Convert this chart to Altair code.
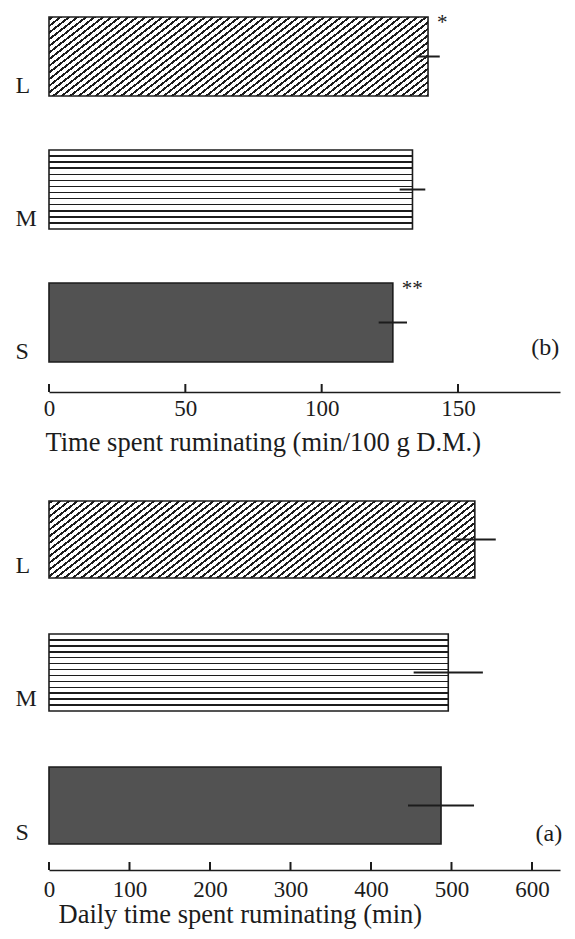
import math
import altair as alt
import pandas as pd

# ---------------- data ----------------
cats = ["L", "M", "S"]

# panel (b): time spent ruminating (min/100 g D.M.)
b_mean = [139.0, 133.3, 126.1]
b_err = [4.3, 4.7, 5.2]
b_sig = ["*", "", "**"]
b_ticks = [0, 50, 100, 150]

# panel (a): daily time spent ruminating (min)
a_mean = [529.0, 496.0, 487.0]
a_err = [26.0, 43.0, 41.0]
a_ticks = [0, 100, 200, 300, 400, 500, 600]

# ---------------- styling / layout ----------------
FONT = "Liberation Serif"
INK = "#1c1c1c"
PW = 511          # plot width (both panels)
B_H = 384         # plot height panel (b)
A_H = 391         # plot height panel (a)
B_MAX = 187.4
A_MAX = 634.8
B_PX = PW / B_MAX
A_PX = PW / A_MAX


def diag_fill(w, h, theta_deg=38.0, spacing=8.5, thick=1.9):
    th = math.radians(theta_deg)
    s, c = math.sin(th), math.cos(th)
    smax = w * s + h * c
    k = smax / (w * w * s * s + h * h * c * c)
    x2, y2 = k * w * s, k * h * c
    period = spacing * s
    stops = [{"offset": 0, "color": "white"}]
    i = 0
    while True:
        o = (i * period + 1.0) / smax
        if o >= 1:
            break
        o2 = min((i * period + 1.0 + thick) / smax, 1)
        stops += [{"offset": o, "color": "white"}, {"offset": o, "color": INK},
                  {"offset": o2, "color": INK}, {"offset": o2, "color": "white"}]
        i += 1
    stops.append({"offset": 1, "color": "white"})
    return {"gradient": "linear", "x1": 0, "y1": 0, "x2": x2, "y2": y2, "stops": stops}


def horiz_fill(h, n=13, thick=1.5):
    stops = [{"offset": 0, "color": "white"}]
    gap = h / n
    for i in range(1, n):
        o = (i * gap - thick / 2) / h
        o2 = (i * gap + thick / 2) / h
        stops += [{"offset": o, "color": "white"}, {"offset": o, "color": INK},
                  {"offset": o2, "color": INK}, {"offset": o2, "color": "white"}]
    stops.append({"offset": 1, "color": "white"})
    return {"gradient": "linear", "x1": 0, "y1": 0, "x2": 0, "y2": 1, "stops": stops}


def panel(means, errs, sigs, ticks, dmax, px, H, pad, title, title_x, title_y,
          label_pad, label_off, tag, tag_x, tag_dy, bar_h):
    df = pd.DataFrame({"cat": cats, "v": means, "lo": [m - e for m, e in zip(means, errs)],
                       "hi": [m + e for m, e in zip(means, errs)], "sig": sigs})
    xs = alt.Scale(domain=[0, dmax], nice=False, zero=False)
    ys = alt.Scale(domain=cats, paddingInner=pad[0], paddingOuter=pad[1], align=pad[2])
    yaxis = alt.Axis(title=None, domain=False, ticks=False, tickSize=0, labelPadding=34,
                     labelAlign="left", labelBaseline="middle", labelOffset=label_off,
                     labelFontSize=24, labelFont=FONT, labelColor=INK, grid=False)
    xaxis = alt.Axis(values=ticks, title=title, ticks=False, tickSize=0, grid=False,
                     labelPadding=label_pad, labelFontSize=23, labelFont=FONT,
                     labelColor=INK, labelFlush=False, labelOverlap=False,
                     domainColor=INK, domainWidth=1.6,
                     titleFont=FONT, titleFontSize=26.5, titleFontWeight="normal",
                     titleColor=INK, titleAnchor="start", titleAlign="left",
                     titleX=title_x, titleY=title_y, titleBaseline="alphabetic")

    def X(f):
        return alt.X(f, scale=xs, axis=xaxis, title=title)

    def Y():
        return alt.Y("cat:N", scale=ys, axis=yaxis, title=None)

    fills = [diag_fill(means[0] * px, bar_h), horiz_fill(bar_h), "#525252"]
    layers = []
    for i, c in enumerate(cats):
        sub = df[df.cat == c]
        layers.append(alt.Chart(sub).mark_bar(fill=fills[i], stroke=INK, strokeWidth=1.6)
                      .encode(x=X("v:Q"), x2=alt.datum(0), y=Y()))
    err = alt.Chart(df).mark_rule(color=INK, strokeWidth=2).encode(
        x=X("lo:Q"), x2="hi:Q", y=Y())
    sig = alt.Chart(df[df.sig != ""]).mark_text(
        font=FONT, fontSize=21, align="left", baseline="top", dx=9, dy=-45, color=INK
    ).encode(x=X("v:Q"), y=Y(), text="sig:N")
    tag_mark = alt.Chart(pd.DataFrame({"t": [tag]})).mark_text(
        font=FONT, fontSize=24, align="center", baseline="middle", dy=tag_dy, color=INK
    ).encode(x=alt.datum(tag_x), y=alt.datum("S"), text="t:N")
    tk = alt.Chart(pd.DataFrame({"t": ticks})).mark_rule(color=INK, strokeWidth=2).encode(
        x=X("t:Q"), y=alt.value(H), y2=alt.value(H - 8))
    return (alt.layer(*layers, err, sig, tag_mark, tk)
            .properties(width=PW, height=H,
                        view=alt.ViewBackground(stroke="transparent", strokeWidth=0)))


pb = panel(b_mean, b_err, b_sig, b_ticks, B_MAX, B_PX, B_H, (0.406, 0.1466, 0.231),
           "Time spent ruminating (min/100 g D.M.)", -4, 58.6, 5, 29, "(b)", 182, 25, 79)
pa = panel(a_mean, a_err, ["", "", ""], a_ticks, A_MAX, A_PX, A_H, (0.421, 0.18, 0.458),
           "Daily time spent ruminating (min)", 9, 52.6, 8, 27, "(a)", 621, 28, 77)

chart = (alt.vconcat(pb, pa, spacing=22)
         .resolve_scale(x="independent", y="independent")
         .properties(padding={"left": 7, "top": 0, "right": 0, "bottom": 0})
         .configure_view(strokeWidth=0, stroke="transparent")
         .configure(font=FONT, background="white"))

chart.save("out.html", embed_options={"renderer": "svg", "actions": False})
